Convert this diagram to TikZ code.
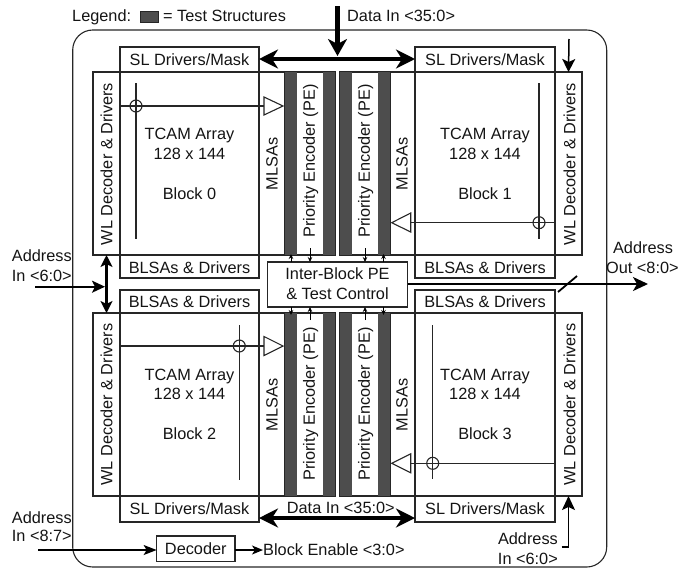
\documentclass[tikz,border=0pt]{standalone}
\usepackage{fontspec}
\setmainfont{Liberation Sans}
\usetikzlibrary{arrows.meta}
\definecolor{ln}{HTML}{262626}
\definecolor{tsbar}{HTML}{4D4D4D}
\definecolor{txt}{HTML}{141414}
\begin{document}
\begin{tikzpicture}[x=1pt,y=-1pt,
  box/.style={draw=ln,line width=1.1pt,inner sep=0pt,outer sep=0pt},
  area/.style={inner sep=0pt,outer sep=0pt},
  lbl/.style={font=\fontsize{16.3}{19}\selectfont,text=txt,inner sep=0pt,text height=11.7pt,text depth=0pt},
  bus/.style={line width=4.5pt,draw=black},
  addr/.style={line width=1.8pt,draw=black},
  sig/.style={line width=1.4pt,draw=black},
  tiny/.style={line width=0.9pt,draw=black,-{Stealth[length=5pt,width=4.5pt]}},
  wire/.style={draw=ln,line width=1.1pt},
  bigtip/.tip={Stealth[length=19pt,width=19pt,inset=6pt]},
  midtip/.tip={Stealth[length=13pt,width=12pt,inset=3pt]},
  smalltip/.tip={Stealth[length=11pt,width=10pt,inset=3pt]}
]
\useasboundingbox (0,0) rectangle (679,571);
% outer chip outline
\draw[ln,line width=1.1pt,rounded corners=20pt] (72.7,30) rectangle (606.7,567);

% ---------- Block 0 (top left) ----------
\node[box,minimum width=192pt,minimum height=183pt] (hr0) at (189,163.5) {};
\node[box,minimum width=139pt,minimum height=25pt] (sl0) at (189.5,59.5) {};
\node[box,minimum width=139pt,minimum height=183pt] (arr0) at (189.5,163.5) {};
\node[box,minimum width=139pt,minimum height=23pt] (bl0) at (189.5,266.5) {};
\node[area,minimum width=27pt,minimum height=183pt] (wl0) at (106.5,163.5) {};
\node[box,minimum width=50pt,minimum height=183pt] (pe0) at (310,163.5) {};
\fill[tsbar] (285,72) rectangle (297,255);
\fill[tsbar] (323,72) rectangle (335,255);

% ---------- Block 1 (top right) ----------
\node[box,minimum width=193pt,minimum height=183pt] (hr1) at (485.5,163.5) {};
\node[box,minimum width=140pt,minimum height=25pt] (sl1) at (485,59.5) {};
\node[box,minimum width=140pt,minimum height=183pt] (arr1) at (485,163.5) {};
\node[box,minimum width=140pt,minimum height=23pt] (bl1) at (485,266.5) {};
\node[area,minimum width=27pt,minimum height=183pt] (wl1) at (568.5,163.5) {};
\node[box,minimum width=50pt,minimum height=183pt] (pe1) at (365,163.5) {};
\fill[tsbar] (340,72) rectangle (352,255);
\fill[tsbar] (378,72) rectangle (390,255);

% ---------- Block 2 (bottom left) ----------
\node[box,minimum width=192pt,minimum height=183pt] (hr2) at (189,404.5) {};
\node[box,minimum width=139pt,minimum height=23pt] (bl2) at (189.5,301.5) {};
\node[box,minimum width=139pt,minimum height=183pt] (arr2) at (189.5,404.5) {};
\node[box,minimum width=139pt,minimum height=26pt] (sl2) at (189.5,509) {};
\node[area,minimum width=27pt,minimum height=183pt] (wl2) at (106.5,404.5) {};
\node[box,minimum width=50pt,minimum height=183pt] (pe2) at (310,404.5) {};
\fill[tsbar] (285,313) rectangle (297,496);
\fill[tsbar] (323,313) rectangle (335,496);

% ---------- Block 3 (bottom right) ----------
\node[box,minimum width=193pt,minimum height=183pt] (hr3) at (485.5,404.5) {};
\node[box,minimum width=140pt,minimum height=23pt] (bl3) at (485,301.5) {};
\node[box,minimum width=140pt,minimum height=183pt] (arr3) at (485,404.5) {};
\node[box,minimum width=140pt,minimum height=26pt] (sl3) at (485,509) {};
\node[area,minimum width=27pt,minimum height=183pt] (wl3) at (568.5,404.5) {};
\node[box,minimum width=50pt,minimum height=183pt] (pe3) at (365,404.5) {};
\fill[tsbar] (340,313) rectangle (352,496);
\fill[tsbar] (378,313) rectangle (390,496);

% ---------- Inter-block box ----------
\node[box,minimum width=140.4pt,minimum height=45pt] (inter) at (337.5,284.5) {};
\node[lbl] at (337.5,274) {Inter-Block PE};
\node[lbl] at (337.5,294) {\& Test Control};

% ---------- block labels ----------
\node[lbl] at (189.5,59.5) {SL Drivers/Mask};
\node[lbl] at (485,59.5) {SL Drivers/Mask};
\node[lbl] at (189.5,509) {SL Drivers/Mask};
\node[lbl] at (485,509) {SL Drivers/Mask};
\node[lbl] at (189.5,267.5) {BLSAs \& Drivers};
\node[lbl] at (485,267.5) {BLSAs \& Drivers};
\node[lbl] at (189.5,302) {BLSAs \& Drivers};
\node[lbl] at (485,302) {BLSAs \& Drivers};

\node[lbl] at (189.5,133.8) {TCAM Array};
\node[lbl] at (189.5,153.7) {128 x 144};
\node[lbl] at (189.5,193.7) {Block 0};
\node[lbl] at (485,133.8) {TCAM Array};
\node[lbl] at (485,153.7) {128 x 144};
\node[lbl] at (485,193.7) {Block 1};
\node[lbl] at (189.5,374.2) {TCAM Array};
\node[lbl] at (189.5,394) {128 x 144};
\node[lbl] at (189.5,434) {Block 2};
\node[lbl] at (485,374.2) {TCAM Array};
\node[lbl] at (485,394) {128 x 144};
\node[lbl] at (485,434) {Block 3};

\node[lbl,rotate=90] at (106.5,164) {WL Decoder \& Drivers};
\node[lbl,rotate=90] at (569.5,164) {WL Decoder \& Drivers};
\node[lbl,rotate=90] at (106.5,404.5) {WL Decoder \& Drivers};
\node[lbl,rotate=90] at (569.5,404.5) {WL Decoder \& Drivers};
\node[lbl,rotate=90] at (271.7,164) {MLSAs};
\node[lbl,rotate=90] at (401.7,164) {MLSAs};
\node[lbl,rotate=90] at (271.7,405) {MLSAs};
\node[lbl,rotate=90] at (401.7,405) {MLSAs};
\node[lbl,rotate=90] at (309,161) {Priority Encoder (PE)};
\node[lbl,rotate=90] at (364,161) {Priority Encoder (PE)};
\node[lbl,rotate=90] at (309,404) {Priority Encoder (PE)};
\node[lbl,rotate=90] at (364,404) {Priority Encoder (PE)};

% ---------- match-line / bit-line sketches ----------
% block 0
\draw[wire] (136,83) -- (136,239);
\draw[wire] (arr0.west |- 0,106) -- (264,106);
\draw[wire] (136,106) circle[radius=6];
\draw[wire,fill=white] (264,97) -- (264,115) -- (283,106) -- cycle;
% block 1
\draw[wire] (539,83) -- (539,239);
\draw[wire] (arr1.east |- 0,222.7) -- (410.7,222.7);
\draw[wire] (539,222.7) circle[radius=6];
\draw[wire,fill=white] (410.7,213) -- (410.7,232) -- (391.7,222.7) -- cycle;
% block 2
\draw[wire] (239.3,325) -- (239.3,480);
\draw[wire] (arr2.west |- 0,346) -- (264,346);
\draw[wire] (239.3,346) circle[radius=6];
\draw[wire,fill=white] (264,336.5) -- (264,355.5) -- (283,346) -- cycle;
% block 3
\draw[wire] (432.7,325) -- (432.7,479.3);
\draw[wire] (arr3.east |- 0,463.3) -- (410.7,463.3);
\draw[wire] (432.7,463.3) circle[radius=6];
\draw[wire,fill=white] (410.7,453.8) -- (410.7,472.8) -- (391.7,463.3) -- cycle;

% ---------- PE <-> inter-block arrows ----------
\draw[tiny] ([xshift=-46.5pt]inter.north) -- ++(0,-8);
\draw[tiny] (310,248) -- (inter.north -| 310,0);
\draw[tiny] (365,248) -- (inter.north -| 365,0);
\draw[tiny] ([xshift=46pt]inter.north) -- ++(0,-8);
\draw[tiny] ([xshift=-46.5pt]inter.south) -- ++(0,8);
\draw[tiny] (310,320) -- (inter.south -| 310,0);
\draw[tiny] (365,320) -- (inter.south -| 365,0);
\draw[tiny] ([xshift=46pt]inter.south) -- ++(0,8);

% ---------- data buses ----------
\coordinate (dintop) at (337.5,6);
\coordinate (busjoin) at (337.5,56);
\draw[bus,{bigtip}-{bigtip}] ([yshift=0.5pt]sl0.east) -- ([yshift=0.5pt]sl1.west);
\draw[bus,-{Stealth[length=17pt,width=19pt,inset=5pt]}] (dintop) -- (busjoin);
\draw[bus,{bigtip}-{bigtip}] ([yshift=-9pt]sl2.east) -- ([yshift=-9pt]sl3.west);

% ---------- legend & top labels ----------
\node[lbl,anchor=west] (leg) at (72,15.8) {Legend:};
\node[draw=ln,line width=0.8pt,fill=tsbar,minimum width=18pt,minimum height=11pt,inner sep=0pt] (legsq) at (149,17.2) {};
\node[lbl,anchor=west] (legtxt) at (163,15.8) {= Test Structures};
\node[lbl,anchor=west] (dinlbl) at (347,15.8) {Data In <35:0>};
\node[lbl,anchor=west] (dinlbl2) at (286.7,507.5) {Data In <35:0>};

% ---------- left address in <6:0> ----------
\node[lbl,anchor=west] (al1) at (11.7,255.3) {Address};
\node[lbl,anchor=west] (al2) at (11.7,275.5) {In <6:0>};
\coordinate (ain) at (35,286.7);
\draw[line width=2.3pt,{Stealth[length=12pt,width=12pt,inset=3pt]}-{Stealth[length=12pt,width=12pt,inset=3pt]}] (wl0.south) -- (wl2.north);
\draw[addr,-{midtip}] (ain) -- (105,286.7);

% ---------- address out <8:0> ----------
\node[lbl] (ao1) at (643,247.5) {Address};
\node[lbl] (ao2) at (642.4,267.5) {Out <8:0>};
\coordinate (aout) at (648,284);
\draw[addr,-{Stealth[length=15pt,width=14pt,inset=4pt]}] (inter.east |- 0,284) -- (aout);
\draw[line width=1.8pt] (558,292) -- (577,276);

% ---------- right address in arrows ----------
\coordinate (artop) at (569,39);
\draw[line width=1.5pt,-{Stealth[length=13pt,width=13pt,inset=3pt]}] (artop) -- (wl1.north);
\node[lbl,anchor=east] (ar1) at (558,539) {Address};
\node[lbl,anchor=east] (ar2) at (558,558.7) {In <6:0>};
\coordinate (arbot) at (561.5,547);
\draw[line width=1.5pt,-{Stealth[length=14pt,width=13pt,inset=3pt]}] (arbot) -| (wl3.south);

% ---------- decoder ----------
\node[box,minimum width=78.3pt,minimum height=25.7pt] (dec) at (195.8,548.8) {};
\node[lbl] at (195.8,549) {Decoder};
\node[lbl,anchor=west] (ben) at (263,550) {Block Enable <3:0>};
\node[lbl,anchor=west] (ad1) at (11.7,517.5) {Address};
\node[lbl,anchor=west] (ad2) at (11.7,536) {In <8:7>};
\coordinate (a87) at (38,550);
\draw[sig,-{Stealth[length=13pt,width=10pt,inset=3pt]}] (a87) -- (dec.west |- 0,550);
\draw[sig,-{Stealth[length=11pt,width=9pt,inset=3pt]}] (dec.east |- 0,550) -- (ben.west);
\end{tikzpicture}
\end{document}
